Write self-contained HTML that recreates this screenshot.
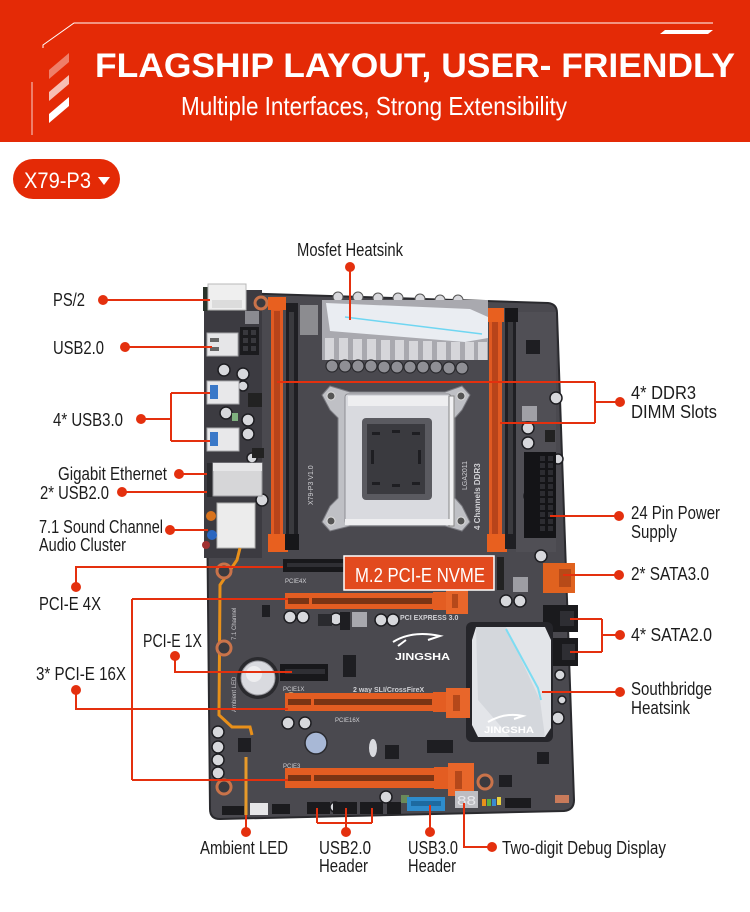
<!DOCTYPE html>
<html><head><meta charset="utf-8"><style>
html,body{margin:0;padding:0;background:#fff;}
svg{display:block;}
text{font-family:"Liberation Sans",Arial,sans-serif;}
</style></head><body>
<svg width="750" height="912" viewBox="0 0 750 912" xmlns="http://www.w3.org/2000/svg">
<rect width="750" height="912" fill="#fff"/>
<!-- HEADER -->
<rect width="750" height="142" fill="#e42a06"/>
<polyline points="43,48 43,45 74,23 713,23" fill="none" stroke="#fff" stroke-width="1"/>
<line x1="32" y1="82" x2="32" y2="135" stroke="#fff" stroke-width="1" opacity="0.8"/>
<polygon points="660,34 708,34 713,30 665,30" fill="#fff"/>
<polygon points="49,70 69,53 69,62 49,79" fill="#fff" opacity="0.4"/>
<polygon points="49,92 69,75 69,84 49,101" fill="#fff" opacity="0.7"/>
<polygon points="49,114 69,97 69,106 49,123" fill="#fff"/>
<text x="95" y="77" font-size="34" font-weight="bold" fill="#fff" textLength="640" lengthAdjust="spacingAndGlyphs">FLAGSHIP LAYOUT, USER- FRIENDLY</text>
<text x="181" y="115" font-size="26" fill="#fff" textLength="386" lengthAdjust="spacingAndGlyphs">Multiple Interfaces, Strong Extensibility</text>
<!-- BADGE -->
<rect x="13" y="159" width="107" height="40" rx="20" fill="#e42a06"/>
<text x="24" y="188" font-size="22" fill="#fff" textLength="67" lengthAdjust="spacingAndGlyphs">X79-P3</text>
<polygon points="98,177 110,177 104,185" fill="#fff"/>

<!-- BOARD -->
<path d="M205,292 L548,303 Q557,304 557,313 L574,800 Q574,810 564,811 L220,819 Q210,819 210,809 Z" fill="#4a494f" stroke="#2a2a2e" stroke-width="2"/>
<rect x="204" y="290" width="58" height="268" fill="#3c3b41"/>
<rect x="516" y="312" width="40" height="240" fill="#504f55"/>

<!-- Left IO -->
<rect x="203" y="287" width="7" height="24" fill="#2a332a"/>
<rect x="208" y="284" width="38" height="26" fill="#efefef" stroke="#b8b8b8"/>
<rect x="212" y="300" width="30" height="8" fill="#dcdcdc"/>
<circle cx="261" cy="303" r="6" fill="#3a3a3f" stroke="#c9734a" stroke-width="3"/>
<rect x="245" y="311" width="14" height="13" fill="#8a8a90"/>
<rect x="240" y="327" width="19" height="28" fill="#1b1b1e"/>
<g fill="#38383d"><rect x="243" y="330" width="5" height="5"/><rect x="251" y="330" width="5" height="5"/><rect x="243" y="338" width="5" height="5"/><rect x="251" y="338" width="5" height="5"/><rect x="243" y="346" width="5" height="5"/><rect x="251" y="346" width="5" height="5"/></g>
<rect x="207" y="333" width="31" height="23" fill="#e6e6e8" stroke="#a8a8ac"/>
<rect x="210" y="338" width="9" height="4" fill="#666"/><rect x="210" y="347" width="9" height="4" fill="#666"/>
<g fill="#d7d8dc" stroke="#1e1e22" stroke-width="1.5"><circle cx="224" cy="370" r="6"/><circle cx="243" cy="374" r="6"/><circle cx="226" cy="413" r="6"/><circle cx="243" cy="386" r="5"/><circle cx="248" cy="420" r="6"/><circle cx="248" cy="434" r="6"/><circle cx="252" cy="458" r="5"/><circle cx="262" cy="500" r="6"/></g>
<rect x="207" y="381" width="32" height="23" fill="#e8e8ea" stroke="#a8a8ac"/>
<rect x="210" y="385" width="8" height="14" fill="#3a78c8"/>
<rect x="207" y="428" width="32" height="23" fill="#e8e8ea" stroke="#a8a8ac"/>
<rect x="210" y="432" width="8" height="14" fill="#3a78c8"/>
<rect x="248" y="393" width="14" height="14" fill="#222"/>
<rect x="232" y="413" width="6" height="8" fill="#7fb07f"/>
<rect x="252" y="448" width="12" height="10" fill="#222"/>
<rect x="207" y="463" width="7" height="34" fill="#2a2a2e"/>
<rect x="213" y="463" width="49" height="33" fill="#d6d6d8" stroke="#9a9a9e"/>
<rect x="213" y="463" width="49" height="8" fill="#e6e6e8"/>
<rect x="217" y="503" width="38" height="45" fill="#ececec" stroke="#b0b0b0"/>
<circle cx="211" cy="516" r="5" fill="#d8731d"/>
<circle cx="212" cy="535" r="5" fill="#2a66c0"/>
<circle cx="206" cy="545" r="4" fill="#a03030"/>

<!-- Left DIMM -->
<rect x="271" y="300" width="12" height="250" fill="#e05a22"/>
<rect x="274" y="311" width="6" height="224" fill="#b8441a"/>
<rect x="268" y="297" width="18" height="13" fill="#e8601f"/>
<rect x="268" y="534" width="20" height="18" fill="#e8601f"/>
<rect x="286" y="303" width="12" height="246" fill="#1f1f23"/>
<rect x="289" y="312" width="5" height="222" fill="#3a3a3e"/>
<rect x="285" y="534" width="14" height="16" fill="#17171a"/>

<!-- Right DIMM -->
<rect x="489" y="311" width="13" height="240" fill="#e05a22"/>
<rect x="492" y="322" width="6" height="212" fill="#b8441a"/>
<rect x="486" y="308" width="18" height="14" fill="#e8601f"/>
<rect x="487" y="534" width="20" height="18" fill="#e8601f"/>
<rect x="505" y="313" width="11" height="236" fill="#1f1f23"/>
<rect x="508" y="322" width="5" height="212" fill="#3a3a3e"/>
<rect x="505" y="308" width="13" height="14" fill="#17171a"/>

<!-- Mosfet heatsink -->
<rect x="300" y="305" width="18" height="30" fill="#8c8c90"/>
<g fill="#d8d8dc" stroke="#555" stroke-width="1"><circle cx="338" cy="297" r="5"/><circle cx="358" cy="297" r="5"/><circle cx="378" cy="298" r="5"/><circle cx="398" cy="298" r="5"/><circle cx="420" cy="299" r="5"/><circle cx="440" cy="300" r="5"/><circle cx="458" cy="300" r="5"/></g>
<rect x="322" y="300" width="166" height="60" fill="#a9a9af"/>
<polygon points="326,303 470,309 488,317 488,338 465,342 330,331" fill="#eaedf2"/>
<path d="M345,317 Q420,326 482,334" stroke="#6fd6f2" stroke-width="1.5" fill="none"/>
<g fill="#d6d6da"><rect x="325" y="338" width="9" height="22"/><rect x="339" y="338" width="9" height="22"/><rect x="353" y="339" width="9" height="21"/><rect x="367" y="339" width="9" height="21"/><rect x="381" y="340" width="9" height="20"/><rect x="395" y="340" width="9" height="20"/><rect x="409" y="341" width="9" height="19"/><rect x="423" y="341" width="9" height="19"/><rect x="437" y="342" width="9" height="18"/><rect x="451" y="342" width="9" height="18"/><rect x="465" y="342" width="9" height="18"/><rect x="478" y="342" width="9" height="18"/></g>
<g fill="#8f8f95" stroke="#2a2a2e" stroke-width="1.2"><circle cx="332" cy="366" r="6"/><circle cx="345" cy="366" r="6"/><circle cx="358" cy="366" r="6"/><circle cx="371" cy="366" r="6"/><circle cx="384" cy="367" r="6"/><circle cx="397" cy="367" r="6"/><circle cx="410" cy="367" r="6"/><circle cx="423" cy="367" r="6"/><circle cx="436" cy="367" r="6"/><circle cx="449" cy="368" r="6"/><circle cx="462" cy="368" r="6"/></g>

<!-- CPU socket -->
<path d="M330,386 L350,392 L445,392 L462,386 L470,395 L462,410 L455,418 L455,498 L462,506 L470,522 L462,531 L445,526 L350,526 L330,531 L322,522 L330,506 L338,498 L338,418 L330,410 L322,395 Z" fill="#bfc0c5" stroke="#7a7a80"/>
<rect x="345" y="394" width="106" height="130" rx="3" fill="#d9dadf" stroke="#8d8d93"/>
<rect x="348" y="396" width="100" height="10" fill="#eeeef0"/>
<rect x="362" y="418" width="70" height="82" rx="4" fill="#5a5a60"/>
<rect x="367" y="424" width="58" height="70" fill="#3a3a3f"/>
<g fill="#1e1e22"><rect x="372" y="432" width="8" height="3"/><rect x="392" y="430" width="8" height="3"/><rect x="412" y="432" width="8" height="3"/><rect x="372" y="482" width="8" height="3"/><rect x="392" y="484" width="8" height="3"/><rect x="412" y="482" width="8" height="3"/><rect x="371" y="450" width="3" height="14"/><rect x="418" y="450" width="3" height="14"/></g>
<rect x="449" y="396" width="5" height="130" fill="#f0f0f2" stroke="#888"/>
<rect x="345" y="519" width="106" height="6" fill="#eeeef0"/>
<g fill="#555" stroke="#ddd"><circle cx="331" cy="396" r="4"/><circle cx="461" cy="396" r="4"/><circle cx="331" cy="521" r="4"/><circle cx="461" cy="521" r="4"/></g>
<text transform="translate(313,505) rotate(-90)" font-size="7" fill="#d0d0d4">X79-P3    V1.0</text>
<text transform="translate(467,490) rotate(-90)" font-size="7" fill="#d0d0d4">LGA2011</text>
<text transform="translate(480,530) rotate(-90)" font-size="8" font-weight="bold" fill="#d0d0d4">4 Channels  DDR3</text>

<!-- Right side components -->
<rect x="526" y="340" width="14" height="14" fill="#1e1e22"/>
<rect x="522" y="406" width="15" height="15" fill="#a0a0a6"/>
<rect x="545" y="430" width="10" height="12" fill="#222"/>
<g fill="#d7d8dc" stroke="#1e1e22" stroke-width="1.5"><circle cx="556" cy="398" r="6"/><circle cx="528" cy="428" r="6"/><circle cx="528" cy="443" r="6"/><circle cx="558" cy="459" r="5"/><circle cx="530" cy="496" r="6"/><circle cx="532" cy="530" r="6"/><circle cx="541" cy="556" r="6"/><circle cx="506" cy="601" r="6"/><circle cx="520" cy="601" r="6"/></g>
<rect x="524" y="452" width="32" height="86" fill="#141417"/>
<g fill="#2c2c31">
<rect x="540" y="456" width="5" height="5"/><rect x="548" y="456" width="5" height="5"/><rect x="540" y="463" width="5" height="5"/><rect x="548" y="463" width="5" height="5"/><rect x="540" y="470" width="5" height="5"/><rect x="548" y="470" width="5" height="5"/><rect x="540" y="477" width="5" height="5"/><rect x="548" y="477" width="5" height="5"/><rect x="540" y="484" width="5" height="5"/><rect x="548" y="484" width="5" height="5"/><rect x="540" y="491" width="5" height="5"/><rect x="548" y="491" width="5" height="5"/><rect x="540" y="498" width="5" height="5"/><rect x="548" y="498" width="5" height="5"/><rect x="540" y="505" width="5" height="5"/><rect x="548" y="505" width="5" height="5"/><rect x="540" y="512" width="5" height="5"/><rect x="548" y="512" width="5" height="5"/><rect x="540" y="519" width="5" height="5"/><rect x="548" y="519" width="5" height="5"/><rect x="540" y="526" width="5" height="5"/><rect x="548" y="526" width="5" height="5"/>
</g>
<rect x="513" y="577" width="15" height="15" fill="#9d9da3"/>
<rect x="543" y="563" width="32" height="30" fill="#e0621f"/>
<rect x="559" y="569" width="12" height="18" fill="#b74a18"/>
<rect x="543" y="605" width="35" height="27" fill="#1a1a1d"/>
<rect x="560" y="611" width="14" height="15" fill="#2e2e33"/>
<rect x="550" y="638" width="28" height="28" fill="#1a1a1d"/>
<rect x="562" y="644" width="13" height="16" fill="#2e2e33"/>
<g fill="#d7d8dc" stroke="#1e1e22" stroke-width="1.5"><circle cx="560" cy="675" r="5"/><circle cx="558" cy="718" r="6"/><circle cx="562" cy="700" r="4"/></g>

<!-- Southbridge heatsink -->
<rect x="466" y="622" width="87" height="120" rx="6" fill="#25252a"/>
<polygon points="476,627 545,627 551,640 551,728 545,737 478,737 472,725 472,640" fill="#e3e5e9"/>
<polygon points="476,627 506,627 540,700 545,737 510,737 478,700" fill="#d4d7dc"/>
<path d="M506,629 L538,688 L541,700" stroke="#7ddcf2" stroke-width="2" fill="none"/>
<path d="M488,722 Q505,712 523,716 L514,719" stroke="#fff" stroke-width="2" fill="none"/>
<text x="484" y="733" font-size="9" font-weight="bold" fill="#fff" textLength="50" lengthAdjust="spacingAndGlyphs">JINGSHA</text>

<!-- LED trace -->
<path d="M240,548 L237,560 L220,585 L219,715 L232,727 L250,727 L252,735" fill="none" stroke="#e8901a" stroke-width="3"/>
<line x1="246" y1="757" x2="246" y2="815" stroke="#e89a2a" stroke-width="3"/>
<text transform="translate(236,640) rotate(-90)" font-size="6" fill="#c8c8cc">7.1 Channel</text>
<text transform="translate(236,712) rotate(-90)" font-size="6" fill="#c8c8cc">Ambient LED</text>

<!-- mounting rings -->
<g fill="#3a3a3f" stroke="#c9734a" stroke-width="3"><circle cx="224" cy="571" r="7"/><circle cx="224" cy="648" r="7"/><circle cx="224" cy="787" r="7"/><circle cx="485" cy="782" r="7"/></g>

<!-- PCIe area -->
<rect x="497" y="557" width="7" height="33" fill="#222"/>
<rect x="283" y="559" width="62" height="13" fill="#18181b"/>
<rect x="287" y="563" width="56" height="4" fill="#2f2f34"/>
<text x="285" y="583" font-size="6" fill="#d0d0d4">PCIE4X</text>

<rect x="285" y="593" width="150" height="16" fill="#e35d22"/>
<rect x="288" y="598" width="144" height="6" fill="#7a3414"/>
<rect x="309" y="597" width="3" height="8" fill="#e35d22"/>
<rect x="433" y="592" width="16" height="18" fill="#e35d22"/>
<rect x="446" y="588" width="22" height="26" fill="#e8662a"/>
<rect x="452" y="594" width="6" height="14" fill="#b5481a"/>

<g fill="#d7d8dc" stroke="#1e1e22" stroke-width="1.5"><circle cx="290" cy="617" r="6"/><circle cx="303" cy="617" r="6"/><circle cx="336" cy="619" r="6"/><circle cx="381" cy="620" r="6"/><circle cx="393" cy="620" r="6"/><circle cx="288" cy="723" r="6"/><circle cx="305" cy="723" r="6"/><circle cx="335" cy="807" r="5"/><circle cx="386" cy="797" r="6"/><circle cx="218" cy="732" r="6"/><circle cx="218" cy="747" r="6"/><circle cx="218" cy="760" r="6"/><circle cx="218" cy="773" r="6"/></g>
<rect x="318" y="614" width="14" height="12" fill="#2a2a2e"/>
<rect x="352" y="612" width="15" height="15" fill="#a8a8ae"/>
<rect x="340" y="612" width="10" height="18" fill="#1e1e22"/>
<rect x="343" y="655" width="13" height="22" fill="#1e1e22"/>
<rect x="262" y="605" width="8" height="12" fill="#1e1e22"/>
<rect x="238" y="738" width="13" height="14" fill="#1e1e22"/>
<text x="400" y="620" font-size="7" font-weight="bold" fill="#cfcfd4">PCI EXPRESS 3.0</text>
<path d="M393,642 Q412,630 440,636 L428,640 M398,646 L406,640" stroke="#fff" stroke-width="2" fill="none"/>
<text x="395" y="660" font-size="10" font-weight="bold" fill="#fff" textLength="55" lengthAdjust="spacingAndGlyphs">JINGSHA</text>

<rect x="280" y="664" width="48" height="17" fill="#18181b"/>
<rect x="285" y="669" width="40" height="5" fill="#2f2f34"/>
<text x="283" y="691" font-size="6" fill="#d0d0d4">PCIE1X</text>
<circle cx="258" cy="678" r="21" fill="#2a2a2e"/>
<circle cx="258" cy="678" r="17" fill="#d9dadf" stroke="#9a9aa0"/>
<circle cx="254" cy="674" r="8" fill="#eeeef0"/>
<circle cx="291" cy="696" r="4" fill="#c8a070"/>
<text x="353" y="692" font-size="7" font-weight="bold" fill="#d0d0d4">2 way SLI/CrossFireX</text>

<rect x="285" y="693" width="150" height="18" fill="#e35d22"/>
<rect x="288" y="699" width="144" height="6" fill="#7a3414"/>
<rect x="311" y="698" width="3" height="8" fill="#e35d22"/>
<rect x="433" y="692" width="16" height="20" fill="#e35d22"/>
<rect x="446" y="688" width="24" height="30" fill="#e8662a"/>
<rect x="453" y="695" width="7" height="16" fill="#b5481a"/>
<text x="335" y="722" font-size="6" fill="#d0d0d4">PCIE16X</text>

<circle cx="316" cy="743" r="11" fill="#a8b8d6" stroke="#2a2a2e" stroke-width="1.5"/>
<rect x="385" y="745" width="14" height="14" fill="#1e1e22"/>
<rect x="427" y="740" width="26" height="13" fill="#1e1e22"/>
<ellipse cx="373" cy="748" rx="4" ry="9" fill="#d9dadf"/>

<text x="283" y="768" font-size="6" fill="#d0d0d4">PCIE3</text>
<rect x="285" y="768" width="152" height="20" fill="#e35d22"/>
<rect x="288" y="775" width="146" height="6" fill="#7a3414"/>
<rect x="311" y="774" width="3" height="8" fill="#e35d22"/>
<rect x="434" y="767" width="16" height="22" fill="#e35d22"/>
<rect x="448" y="763" width="26" height="33" fill="#e8662a"/>
<rect x="455" y="771" width="7" height="18" fill="#b5481a"/>

<!-- Bottom headers -->
<rect x="222" y="806" width="22" height="9" fill="#1b1b1e"/>
<rect x="250" y="803" width="18" height="12" fill="#e6e6e8"/>
<rect x="272" y="804" width="18" height="10" fill="#1b1b1e"/>
<rect x="307" y="802" width="23" height="12" fill="#1b1b1e"/>
<rect x="333" y="802" width="24" height="12" fill="#1b1b1e"/>
<rect x="360" y="802" width="23" height="12" fill="#1b1b1e"/>
<rect x="387" y="802" width="14" height="12" fill="#1b1b1e"/>
<rect x="401" y="795" width="8" height="8" fill="#6a8a5a"/>
<rect x="407" y="797" width="38" height="14" fill="#2e8ccc"/>
<rect x="411" y="801" width="30" height="5" fill="#1d6aa0"/>
<rect x="455" y="791" width="23" height="17" fill="#bdbdc2"/>
<text x="457" y="805" font-size="13" fill="#e8e8ec" textLength="19" lengthAdjust="spacingAndGlyphs">88</text>
<rect x="482" y="799" width="4" height="7" fill="#e8901a"/><rect x="487" y="799" width="4" height="7" fill="#5ab040"/><rect x="492" y="799" width="4" height="7" fill="#3a8ad0"/><rect x="497" y="797" width="4" height="8" fill="#e8d040"/>
<rect x="505" y="798" width="26" height="10" fill="#1b1b1e"/>
<rect x="537" y="752" width="12" height="12" fill="#1e1e22"/>
<rect x="499" y="775" width="13" height="12" fill="#1e1e22"/>
<rect x="555" y="795" width="14" height="8" fill="#c87a5a"/>

<!-- M.2 label -->
<rect x="344" y="556" width="150" height="34" fill="#e24a1e" stroke="#fff" stroke-width="1.5"/>
<text x="355" y="582" font-size="20" fill="#fff" textLength="130" lengthAdjust="spacingAndGlyphs">M.2 PCI-E NVME</text>

<!-- CONNECTOR LINES -->
<g fill="none" stroke="#e4300e" stroke-width="2">
<path d="M103,300 H210"/>
<path d="M125,347 H212"/>
<path d="M141,419 H171 M171,393 V441 M171,393 H210 M171,441 H210"/>
<path d="M179,474 H207"/>
<path d="M122,492 H207"/>
<path d="M170,530 H208"/>
<path d="M76,587 V567 H283"/>
<path d="M132,599 V780 M132,599 H288 M132,780 H288"/>
<path d="M175,656 V672 H292"/>
<path d="M76,690 V709 H288"/>
<path d="M246,832 V815"/>
<path d="M346,832 V823 M317,823 H372 M317,823 V808 M346,823 V808 M372,823 V808"/>
<path d="M430,832 V805"/>
<path d="M492,847 H464 V803"/>
<path d="M350,267 V320"/>
<path d="M620,402 H595 M595,382 V423 M595,382 H277 M595,423 H500"/>
<path d="M619,516 H550"/>
<path d="M619,575 H563"/>
<path d="M620,635 H602 M602,619 V652 M602,619 H570 M602,652 H570"/>
<path d="M620,692 H542"/>
</g>
<g fill="#e4300e">
<circle cx="103" cy="300" r="5"/><circle cx="125" cy="347" r="5"/><circle cx="141" cy="419" r="5"/><circle cx="179" cy="474" r="5"/><circle cx="122" cy="492" r="5"/><circle cx="170" cy="530" r="5"/><circle cx="76" cy="587" r="5"/><circle cx="175" cy="656" r="5"/><circle cx="76" cy="690" r="5"/><circle cx="246" cy="832" r="5"/><circle cx="346" cy="832" r="5"/><circle cx="430" cy="832" r="5"/><circle cx="492" cy="847" r="5"/><circle cx="350" cy="267" r="5"/><circle cx="620" cy="402" r="5"/><circle cx="619" cy="516" r="5"/><circle cx="619" cy="575" r="5"/><circle cx="620" cy="635" r="5"/><circle cx="620" cy="692" r="5"/>
</g>

<!-- LABELS -->
<g font-size="18" fill="#1c1c1c">
<text x="297" y="256" textLength="106" lengthAdjust="spacingAndGlyphs">Mosfet Heatsink</text>
<text x="53" y="306" textLength="32" lengthAdjust="spacingAndGlyphs">PS/2</text>
<text x="53" y="354" textLength="51" lengthAdjust="spacingAndGlyphs">USB2.0</text>
<text x="53" y="426" textLength="70" lengthAdjust="spacingAndGlyphs">4* USB3.0</text>
<text x="58" y="480" textLength="109" lengthAdjust="spacingAndGlyphs">Gigabit Ethernet</text>
<text x="40" y="499" textLength="69" lengthAdjust="spacingAndGlyphs">2* USB2.0</text>
<text x="39" y="533" textLength="124" lengthAdjust="spacingAndGlyphs">7.1 Sound Channel</text>
<text x="39" y="551" textLength="87" lengthAdjust="spacingAndGlyphs">Audio Cluster</text>
<text x="39" y="610" textLength="62" lengthAdjust="spacingAndGlyphs">PCI-E 4X</text>
<text x="143" y="647" textLength="59" lengthAdjust="spacingAndGlyphs">PCI-E 1X</text>
<text x="36" y="680" textLength="90" lengthAdjust="spacingAndGlyphs">3* PCI-E 16X</text>
<text x="200" y="854" textLength="88" lengthAdjust="spacingAndGlyphs">Ambient LED</text>
<text x="319" y="854" textLength="52" lengthAdjust="spacingAndGlyphs">USB2.0</text>
<text x="319" y="872" textLength="49" lengthAdjust="spacingAndGlyphs">Header</text>
<text x="408" y="854" textLength="50" lengthAdjust="spacingAndGlyphs">USB3.0</text>
<text x="408" y="872" textLength="48" lengthAdjust="spacingAndGlyphs">Header</text>
<text x="502" y="854" textLength="164" lengthAdjust="spacingAndGlyphs">Two-digit Debug Display</text>
<text x="631" y="399" textLength="65" lengthAdjust="spacingAndGlyphs">4* DDR3</text>
<text x="631" y="418" textLength="86" lengthAdjust="spacingAndGlyphs">DIMM Slots</text>
<text x="631" y="519" textLength="89" lengthAdjust="spacingAndGlyphs">24 Pin Power</text>
<text x="631" y="538" textLength="46" lengthAdjust="spacingAndGlyphs">Supply</text>
<text x="631" y="580" textLength="78" lengthAdjust="spacingAndGlyphs">2* SATA3.0</text>
<text x="631" y="641" textLength="81" lengthAdjust="spacingAndGlyphs">4* SATA2.0</text>
<text x="631" y="695" textLength="81" lengthAdjust="spacingAndGlyphs">Southbridge</text>
<text x="631" y="714" textLength="59" lengthAdjust="spacingAndGlyphs">Heatsink</text>
</g>
</svg>
</body></html>
